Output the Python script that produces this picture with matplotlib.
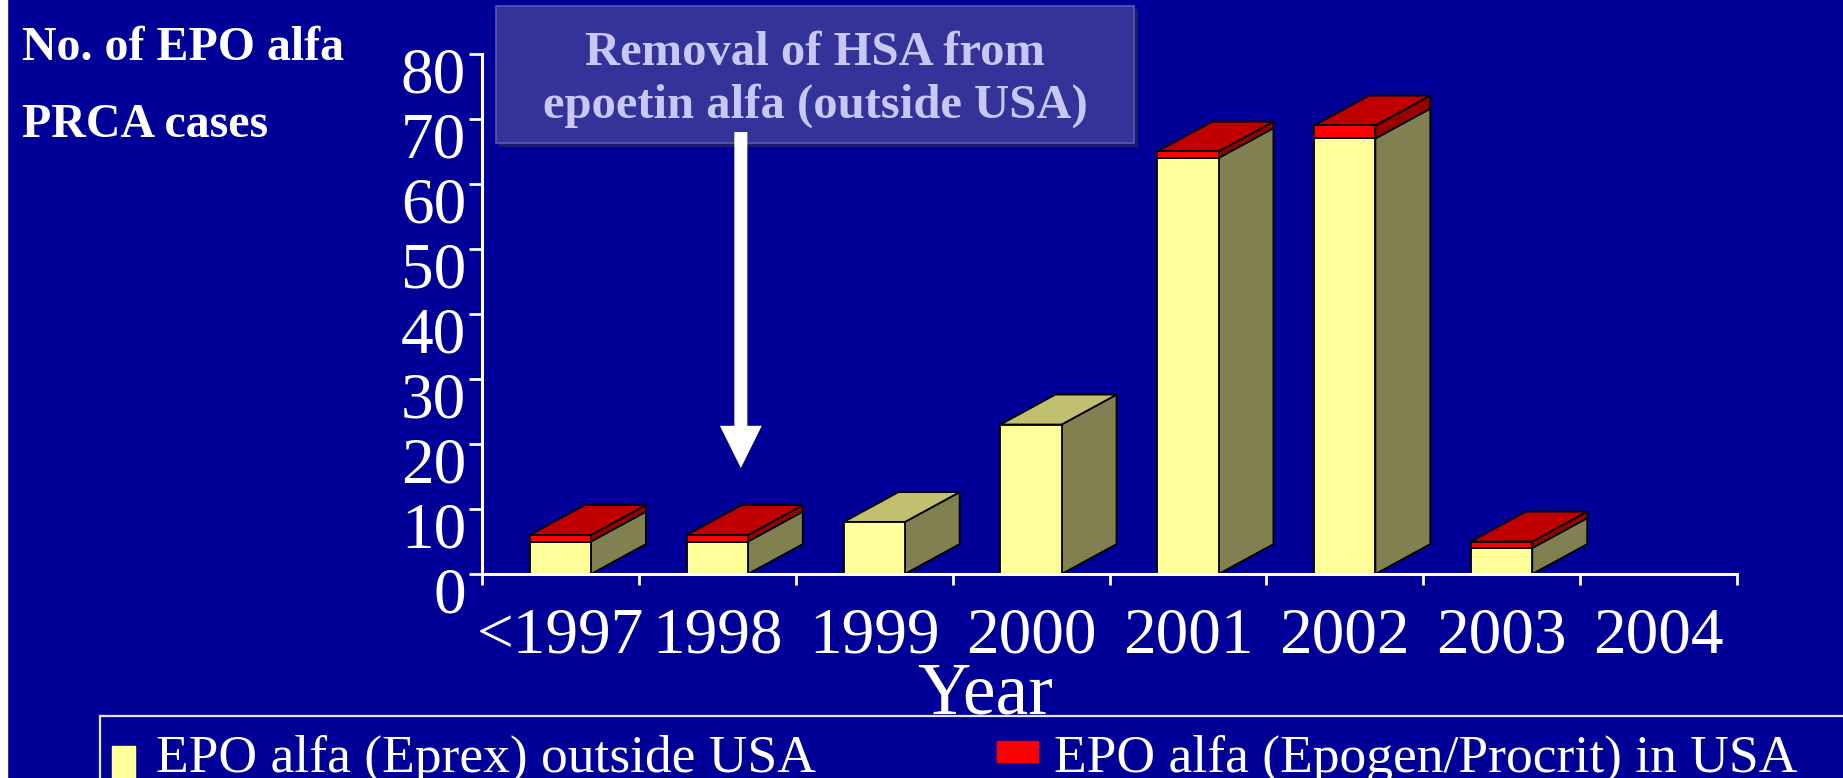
import matplotlib.pyplot as plt
import numpy as np
from matplotlib.patches import Rectangle
from matplotlib.lines import Line2D
from matplotlib.transforms import ScaledTranslation

# data
categories = ['<1997', '1998', '1999', '2000', '2001', '2002', '2003', '2004']
outside_usa = [5, 5, 8, 23, 64, 67, 4, 0]   # EPO alfa (Eprex) outside USA
in_usa = [1, 1, 0, 0, 1, 2, 1, 0]           # EPO alfa (Epogen/Procrit) in USA
y_ticks = [0, 10, 20, 30, 40, 50, 60, 70, 80]

# arrow: HSA removal, between 1998 and 1999
arrow_x = 1.15
arrow_top = 68
arrow_tip = 16.3

bg = '#000099'
yellow_front = '#FFFF99'
yellow_side = '#808050'
yellow_top = '#C0C070'
red_front = '#FF0000'
red_side = '#990000'
red_top = '#C00000'

plt.rcParams['font.family'] = ['Liberation Serif', 'DejaVu Serif']

W, H = 1843, 778
fig = plt.figure(figsize=(W / 100, H / 100), dpi=100, facecolor=bg)
ax = fig.add_axes([482 / W, 1 - 574 / H, (1737 - 482) / W, 520 / H])
ax.set_zorder(3)
ax.set_facecolor('none')
ax.set_xlim(-0.5, len(categories) - 0.5)
ax.set_ylim(0, 80)

x = np.arange(len(categories))
outside = np.array(outside_usa, dtype=float)
usa = np.array(in_usa, dtype=float)
total = outside + usa

bar_w = 0.39
dx = 0.35   # depth in x (category units)
dy = 4.6    # depth in y (data units)

# side and top faces (fake 3d)
for xi, h1, h2 in zip(x, outside, usa):
    if h1 + h2 <= 0:
        continue
    r = xi + bar_w / 2
    l = xi - bar_w / 2
    ax.fill([r, r + dx, r + dx, r], [0, dy, h1 + dy, h1],
            color=yellow_side, ec='black', lw=1.3, zorder=2)
    if h2 > 0:
        ax.fill([r, r + dx, r + dx, r], [h1, h1 + dy, h1 + h2 + dy, h1 + h2],
                color=red_side, ec='black', lw=1.3, zorder=2)
    top = h1 + h2
    ax.fill([l, r, r + dx, l + dx], [top, top, top + dy, top + dy],
            color=red_top if h2 > 0 else yellow_top, ec='black', lw=1.3, zorder=2)

# front faces
m = total > 0
ax.bar(x[m], outside[m], width=bar_w, color=yellow_front, edgecolor='black', lw=1.3, zorder=3)
m2 = usa > 0
ax.bar(x[m2], usa[m2], width=bar_w, bottom=outside[m2], color=red_front,
       edgecolor='black', lw=1.3, zorder=3)

# axes styling
for s in ['top', 'right']:
    ax.spines[s].set_visible(False)
for s in ['left', 'bottom']:
    ax.spines[s].set_color('white')
    ax.spines[s].set_linewidth(2.2)
    ax.spines[s].set_zorder(4)

ax.set_yticks(y_ticks)
ax.tick_params(axis='y', colors='white', length=9.5, width=2, labelsize=47, pad=2)
for lbl in ax.get_yticklabels():
    lbl.set_transform(lbl.get_transform() + ScaledTranslation(0, -0.16, fig.dpi_scale_trans))

ax.set_xticks(np.arange(-0.5, len(categories)), labels=[])
ax.set_xticks(x, labels=categories, minor=True)
ax.tick_params(axis='x', which='major', colors='white', length=8, width=2)
ax.tick_params(axis='x', which='minor', colors='white', length=0, labelsize=47, pad=24)

ax.set_xlabel('Year', color='white', fontsize=53)
ax.xaxis.label.set_va('baseline')
ax.xaxis.set_label_coords((985 - 482) / (1737 - 482), (574 - 713) / 520)

# y title at top left
fig.text(22 / W, 1 - 60 / H, 'No. of EPO alfa', color='white', fontsize=34.5,
         fontweight='bold', va='baseline', ha='left')
fig.text(22 / W, 1 - 137 / H, 'PRCA cases', color='white', fontsize=34.5,
         fontweight='bold', va='baseline', ha='left')

# annotation box
fig.patches.append(Rectangle((499 / W, 1 - 146 / H), 638 / W, 137 / H,
                             transform=fig.transFigure, color='#1a1a70', zorder=-2))
fig.patches.append(Rectangle((496 / W, 1 - 143 / H), 638 / W, 137 / H,
                             transform=fig.transFigure, fc='#333399', ec='#5a5ab4',
                             lw=1.2, zorder=-1))
fig.text(815 / W, 1 - 65 / H, 'Removal of HSA from', color='#C8C8F5', fontsize=35,
         fontweight='bold', ha='center', va='baseline')
fig.text(815 / W, 1 - 118 / H, 'epoetin alfa (outside USA)', color='#C8C8F5', fontsize=35,
         fontweight='bold', ha='center', va='baseline')

ax.arrow(arrow_x, arrow_top, 0, arrow_tip - arrow_top, width=0.083, head_width=0.267,
         head_length=6.5, length_includes_head=True, fc='white', ec='none',
         zorder=5, clip_on=False)

# white strip at left edge
fig.patches.append(Rectangle((0, 0), 7 / W, 1, transform=fig.transFigure,
                             color='white', zorder=-1))

# legend strip at bottom
ly = 1 - 716 / H
fig.lines.append(Line2D([100 / W, 1], [ly, ly], transform=fig.transFigure,
                        color='#E6E6F0', lw=1.6))
fig.lines.append(Line2D([100 / W, 100 / W], [0, ly], transform=fig.transFigure,
                        color='#E6E6F0', lw=1.6))
fig.patches.append(Rectangle((112 / W, 0), 23 / W, 32 / H, transform=fig.transFigure,
                             color=yellow_front))
fig.patches.append(Rectangle((997 / W, 1 - 762 / H), 41 / W, 21 / H,
                             transform=fig.transFigure, color=red_front))
fig.text(156 / W, 1 - 772 / H, 'EPO alfa (Eprex) outside USA', color='white',
         fontsize=38.5, va='baseline', ha='left')
fig.text(1054 / W, 1 - 772 / H, 'EPO alfa (Epogen/Procrit) in USA', color='white',
         fontsize=38.5, va='baseline', ha='left')

fig.savefig('out.png', dpi=100, facecolor=bg)
